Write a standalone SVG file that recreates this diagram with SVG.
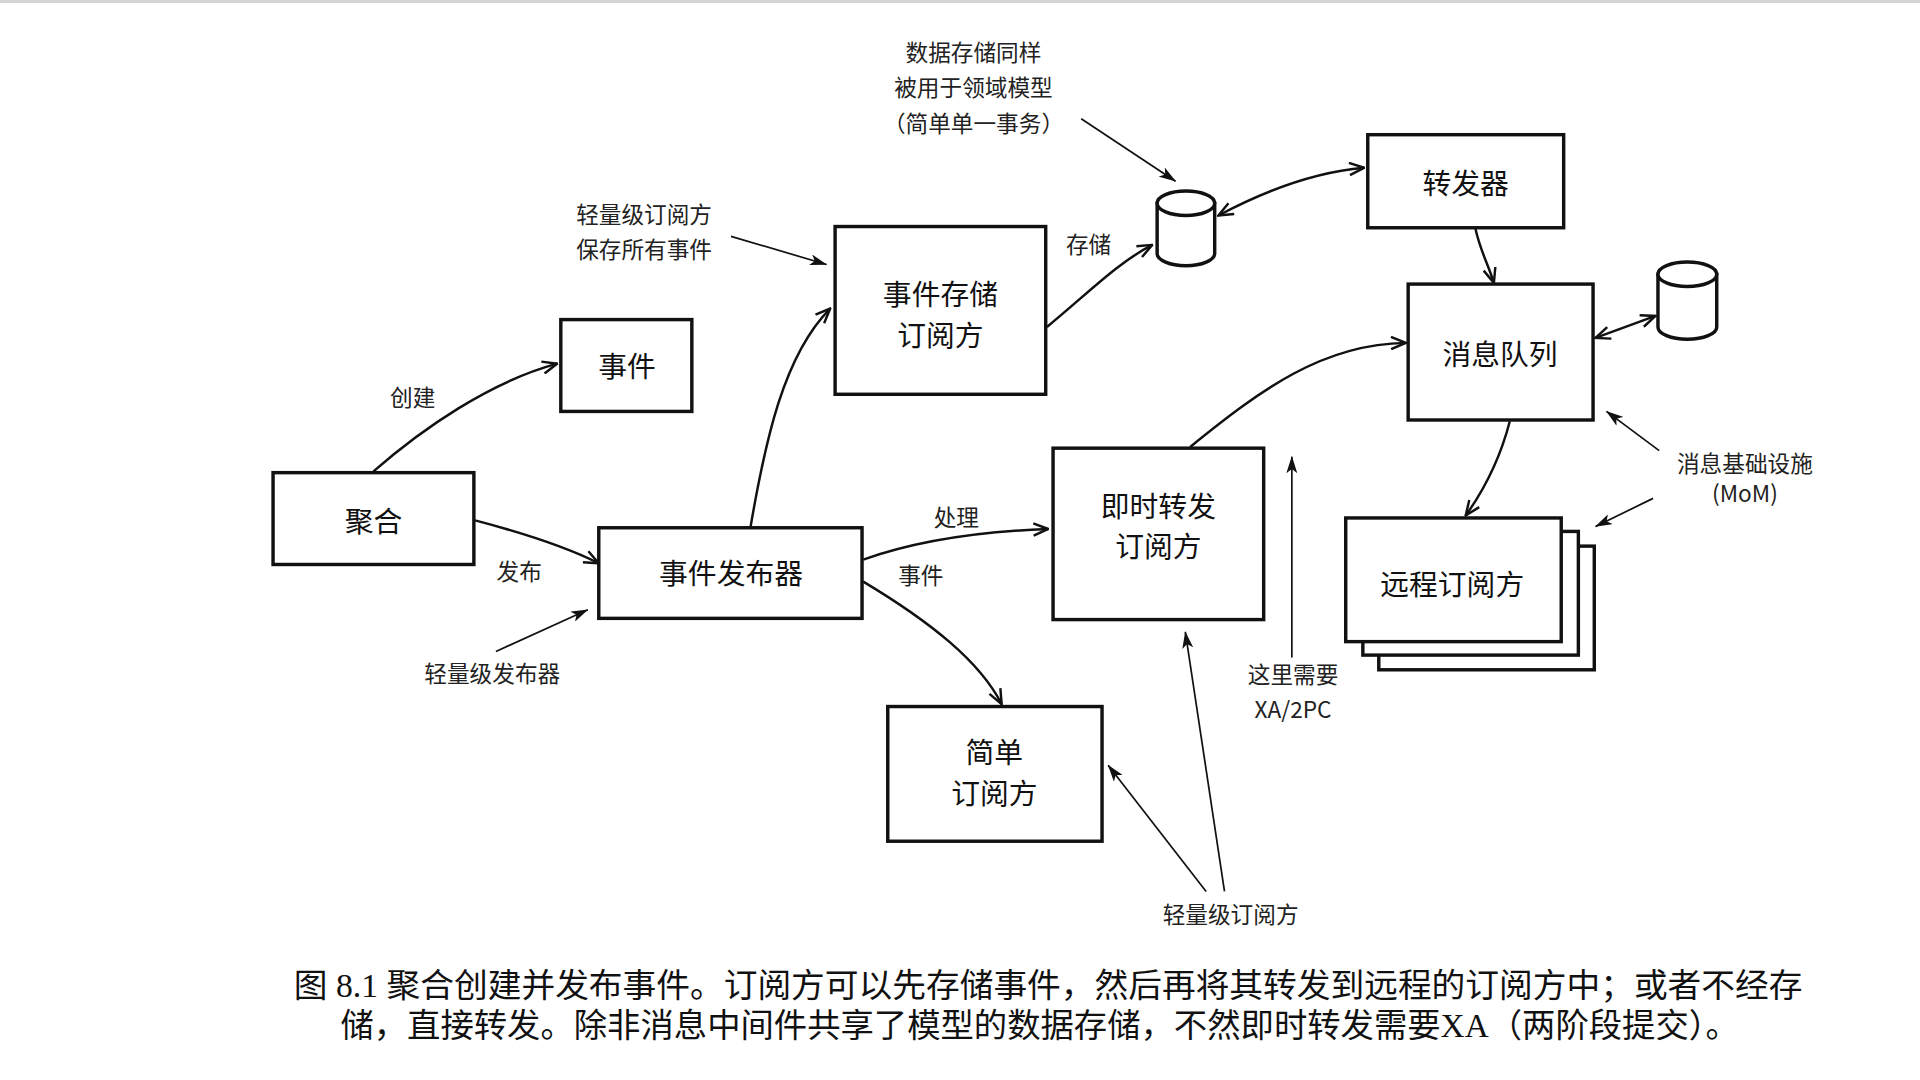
<svg xmlns="http://www.w3.org/2000/svg" width="1920" height="1080" viewBox="0 0 1920 1080">
<style>
.box{fill:#fff;stroke:#111;stroke-width:2.8}
.ntxt{font-family:"Noto Sans CJK SC","Noto Sans",sans-serif;font-size:23.5px;fill:#111;text-anchor:middle;dominant-baseline:central}
.lbl{font-family:"Noto Sans CJK SC","Noto Sans",sans-serif;font-size:18.5px;fill:#222;text-anchor:middle;dominant-baseline:central}
.con{fill:none;stroke:#111;stroke-width:2}
.ann{fill:none;stroke:#111;stroke-width:1.4}
.cap{font-family:"Liberation Serif","Noto Sans CJK SC",serif;font-size:27px;fill:#111;dominant-baseline:central}
</style>
<defs>
<marker id="open" viewBox="0 0 14 12" refX="13" refY="6" markerWidth="14" markerHeight="12" markerUnits="userSpaceOnUse" orient="auto-start-reverse">
<path d="M1,1 L13,6 L1,11" fill="none" stroke="#111" stroke-width="2"/>
</marker>
<marker id="fill" viewBox="0 0 14 9" refX="13.5" refY="4.5" markerWidth="14" markerHeight="9" markerUnits="userSpaceOnUse" orient="auto">
<path d="M0,0 L14,4.5 L0,9 L3.5,4.5 Z" fill="#111"/>
</marker>
</defs>
<rect width="1920" height="1080" fill="#fff"/>
<rect width="1920" height="3" fill="#d4d4d4"/>
<g transform="scale(1.22449)">
<g id="node-event">
<rect class="box" x="458" y="261" width="107" height="75"/>
<text class="ntxt" x="512" y="298">事件</text>
</g>
<g id="node-aggregate">
<rect class="box" x="223" y="386" width="164" height="75"/>
<text class="ntxt" x="305" y="424">聚合</text>
</g>
<g id="node-publisher">
<rect class="box" x="489" y="431" width="215" height="74"/>
<text class="ntxt" x="597" y="467">事件发布器</text>
</g>
<g id="node-store-subscriber">
<rect class="box" x="682" y="185" width="172" height="137"/>
<text class="ntxt" x="768" y="239">事件存储</text>
<text class="ntxt" x="768" y="272">订阅方</text>
</g>
<g id="node-forward-subscriber">
<rect class="box" x="860" y="366" width="172" height="140"/>
<text class="ntxt" x="946" y="412">即时转发</text>
<text class="ntxt" x="946" y="445">订阅方</text>
</g>
<g id="node-simple-subscriber">
<rect class="box" x="725" y="577" width="175" height="110"/>
<text class="ntxt" x="812" y="613">简单</text>
<text class="ntxt" x="812" y="646">订阅方</text>
</g>
<g id="node-forwarder">
<rect class="box" x="1117" y="110" width="160" height="76"/>
<text class="ntxt" x="1197" y="148">转发器</text>
</g>
<g id="node-queue">
<rect class="box" x="1150" y="232" width="151" height="111"/>
<text class="ntxt" x="1225" y="288">消息队列</text>
</g>
<g id="node-remote">
<rect class="box" x="1126" y="446" width="176" height="101"/>
<rect class="box" x="1113" y="434" width="176" height="101"/>
<rect class="box" x="1099" y="423" width="176" height="101"/>
<text class="ntxt" x="1186" y="476">远程订阅方</text>
</g>
<g id="node-db1">
<path class="box" d="M945,166 L945,207 A23.5,10 0 0 0 992,207 L992,166 Z"/>
<ellipse class="box" cx="968.5" cy="166" rx="23.5" ry="10"/>
</g>
<g id="node-db2">
<path class="box" d="M1354,224 L1354,267 A24,10 0 0 0 1402,267 L1402,224 Z"/>
<ellipse class="box" cx="1378" cy="224" rx="24" ry="10"/>
</g>
<g id="connectors">
<path class="con" marker-end="url(#open)" d="M305,385 C345,350 400,312 455,297"/>
<path class="con" marker-end="url(#open)" d="M388,425 C430,436 465,448 489,460"/>
<path class="con" marker-end="url(#open)" d="M613,430 C625,360 640,290 678,252"/>
<path class="con" marker-end="url(#open)" d="M705,457 C750,441 800,434 856,432"/>
<path class="con" marker-end="url(#open)" d="M705,475 C760,508 800,540 818,575"/>
<path class="con" marker-end="url(#open)" d="M855,267 C888,240 912,215 941,200"/>
<path class="con" marker-start="url(#open)" marker-end="url(#open)" d="M995,176 C1040,152 1080,140 1114,137"/>
<path class="con" marker-end="url(#open)" d="M1205,187 C1209,205 1215,215 1220,231"/>
<path class="con" marker-end="url(#open)" d="M972,365 C1030,318 1080,281 1148,280"/>
<path class="con" marker-start="url(#open)" marker-end="url(#open)" d="M1303,276 L1352,258"/>
<path class="con" marker-end="url(#open)" d="M1233,344 C1225,375 1212,400 1197,421"/>
<path class="ann" marker-end="url(#fill)" d="M883,97 L960,148"/>
<path class="ann" marker-end="url(#fill)" d="M597,193 L675,216"/>
<path class="ann" marker-end="url(#fill)" d="M405,532 L480,498"/>
<path class="ann" marker-end="url(#fill)" d="M1355,368 L1312,336"/>
<path class="ann" marker-end="url(#fill)" d="M1350,407 L1303,430"/>
<path class="ann" marker-end="url(#fill)" d="M1055,537 L1055,373"/>
<path class="ann" marker-end="url(#fill)" d="M985,728 L905,625"/>
<path class="ann" marker-end="url(#fill)" d="M1000,728 L968,516"/>
</g>
<g id="labels">
<text class="lbl" x="795" y="42">数据存储同样</text>
<text class="lbl" x="795" y="71">被用于领域模型</text>
<text class="lbl" x="795" y="100">（简单单一事务）</text>
<text class="lbl" x="526" y="174">轻量级订阅方</text>
<text class="lbl" x="526" y="203">保存所有事件</text>
<text class="lbl" x="337" y="324">创建</text>
<text class="lbl" x="424" y="466">发布</text>
<text class="lbl" x="402" y="549">轻量级发布器</text>
<text class="lbl" x="889" y="199">存储</text>
<text class="lbl" x="781" y="422">处理</text>
<text class="lbl" x="752" y="469">事件</text>
<text class="lbl" x="1056" y="550">这里需要</text>
<text class="lbl" x="1056" y="579">XA/2PC</text>
<text class="lbl" x="1005" y="746">轻量级订阅方</text>
<text class="lbl" x="1425" y="378">消息基础设施</text>
<text class="lbl" x="1425" y="402">(MoM)</text>
</g>
<g id="caption">
<text class="cap" x="240" y="805" textLength="1232" lengthAdjust="spacingAndGlyphs">图 8.1 聚合创建并发布事件。订阅方可以先存储事件，然后再将其转发到远程的订阅方中；或者不经存</text>
<text class="cap" x="278" y="838" textLength="1142" lengthAdjust="spacingAndGlyphs">储，直接转发。除非消息中间件共享了模型的数据存储，不然即时转发需要XA（两阶段提交）。</text>
</g>
</g>
</svg>
